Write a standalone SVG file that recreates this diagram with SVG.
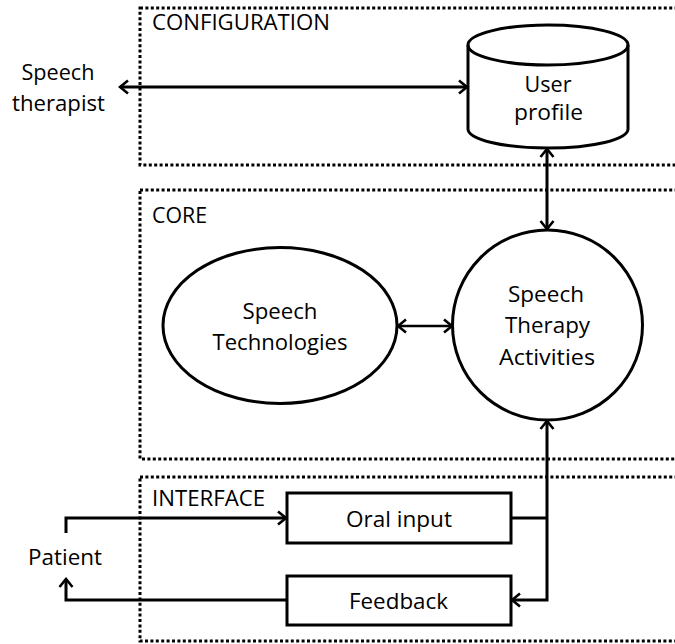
<svg xmlns="http://www.w3.org/2000/svg" width="675" height="644" viewBox="0 0 675 644">
<defs>
<style>
.t{font-family:"Open Sans","Liberation Sans",Arial,sans-serif;font-size:21px;fill:#000}
.m{text-anchor:middle}
.box{fill:none;stroke:#000;stroke-width:3;stroke-dasharray:3 2.4}
.shape{fill:#fff;stroke:#000;stroke-width:3}
.c{fill:none;stroke:#000;stroke-width:3;stroke-linejoin:miter}
.c2{fill:none;stroke:#000;stroke-width:2.5}
</style>
<marker id="ah" viewBox="-12 -8 14 16" refX="0" refY="0" markerWidth="14" markerHeight="16" markerUnits="userSpaceOnUse" orient="auto-start-reverse">
<path d="M-8,-6.5 L0,0 L-8,6.5" fill="none" stroke="#000" stroke-width="2.6" stroke-linejoin="miter"/>
</marker>
</defs>
<rect width="675" height="644" fill="#fff"/>
<g id="configuration">
<rect class="box" x="140" y="8" width="570" height="157"/>
<text class="t" x="152" y="30" textLength="178" lengthAdjust="spacingAndGlyphs">CONFIGURATION</text>
</g>
<g id="core">
<rect class="box" x="140" y="190" width="570" height="269"/>
<text class="t" x="152" y="223" textLength="55" lengthAdjust="spacingAndGlyphs">CORE</text>
</g>
<g id="interface">
<rect class="box" x="140" y="477" width="570" height="164"/>
<text class="t" x="152" y="506" textLength="113" lengthAdjust="spacingAndGlyphs">INTERFACE</text>
</g>
<g id="connectors">
<line class="c" x1="120" y1="87" x2="467" y2="87" marker-start="url(#ah)" marker-end="url(#ah)"/>
<line class="c" x1="547" y1="149" x2="547" y2="229" marker-start="url(#ah)" marker-end="url(#ah)"/>
<line class="c2" x1="398" y1="326" x2="452" y2="326" marker-start="url(#ah)" marker-end="url(#ah)"/>
<path class="c" d="M547,421 V600 H512" marker-start="url(#ah)" marker-end="url(#ah)"/>
<path class="c" d="M511,518 H547"/>
<path class="c" d="M66,533 V518 H286" marker-end="url(#ah)"/>
<path class="c" d="M287,600 H66 V579" marker-end="url(#ah)"/>
</g>
<g id="speech-therapist">
<text class="t m" x="58" y="80" textLength="73" lengthAdjust="spacingAndGlyphs">Speech</text>
<text class="t m" x="58.5" y="111" textLength="93" lengthAdjust="spacingAndGlyphs">therapist</text>
</g>
<g id="user-profile">
<path class="shape" d="M468,45 A80,20 0 0 1 628,45 V129 A80,19 0 0 1 468,129 Z"/>
<path class="c" d="M468,45 A80,20 0 0 0 628,45"/>
<text class="t m" x="548" y="92" textLength="47" lengthAdjust="spacingAndGlyphs">User</text>
<text class="t m" x="548.5" y="120" textLength="69" lengthAdjust="spacingAndGlyphs">profile</text>
</g>
<g id="speech-technologies">
<ellipse class="shape" cx="280" cy="325.5" rx="117" ry="78"/>
<text class="t m" x="280" y="319" textLength="75" lengthAdjust="spacingAndGlyphs">Speech</text>
<text class="t m" x="280" y="350" textLength="135" lengthAdjust="spacingAndGlyphs">Technologies</text>
</g>
<g id="speech-therapy-activities">
<circle class="shape" cx="547.5" cy="325" r="95"/>
<text class="t m" x="546" y="302" textLength="76" lengthAdjust="spacingAndGlyphs">Speech</text>
<text class="t m" x="547.5" y="333" textLength="85" lengthAdjust="spacingAndGlyphs">Therapy</text>
<text class="t m" x="547" y="365" textLength="96" lengthAdjust="spacingAndGlyphs">Activities</text>
</g>
<g id="oral-input">
<rect class="shape" x="287" y="493" width="224" height="50"/>
<text class="t m" x="399" y="527" textLength="106" lengthAdjust="spacingAndGlyphs">Oral input</text>
</g>
<g id="feedback">
<rect class="shape" x="287" y="576" width="224" height="49"/>
<text class="t m" x="398.5" y="609" textLength="99" lengthAdjust="spacingAndGlyphs">Feedback</text>
</g>
<g id="patient">
<text class="t m" x="65" y="565" textLength="74" lengthAdjust="spacingAndGlyphs">Patient</text>
</g>
</svg>
